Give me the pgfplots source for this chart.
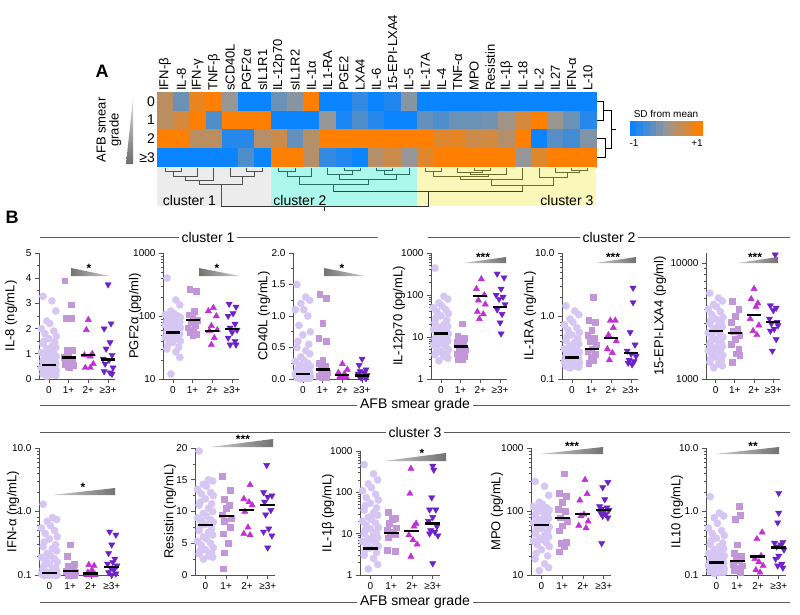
\documentclass[border=0pt]{standalone}
\usepackage{fontspec}
\setmainfont{Liberation Sans}
\usepackage{pgfplots}
\pgfplotsset{compat=1.18}

\definecolor{c0}{RGB}{214,198,243}
\definecolor{c1}{RGB}{194,150,216}
\definecolor{c2}{RGB}{192,48,212}
\definecolor{c3}{RGB}{108,34,200}
\definecolor{axc}{RGB}{80,80,80}
\definecolor{bgA}{RGB}{236,236,236}
\definecolor{bgB}{RGB}{172,248,236}
\definecolor{bgC}{RGB}{250,247,186}
\definecolor{d1}{RGB}{80,80,80}
\definecolor{d2}{RGB}{40,110,96}
\definecolor{d3}{RGB}{110,110,40}

\newcommand\tf{\fontsize{10}{12}\selectfont}
\newcommand\lf{\fontsize{13}{13}\selectfont}
\newcommand\cf{\fontsize{14}{16}\selectfont}
\newcommand\hf{\fontsize{13}{14}\selectfont}

\pgfplotsset{
  sc/.style={anchor=south west, scale only axis, clip=false, clip marker paths=true,
    axis lines=left, axis line style={-, draw=axc, line width=0.9pt},
    xmin=-0.5, xmax=3.35, xtick={0,1,2,3}, xticklabels={0,1+,2+,≥3+},
    tick align=outside, major tick length=4pt, minor tick length=2.2pt,
    tick style={axc, line width=0.7pt},
    tick label style={font=\tf},
    ylabel style={font=\lf, at={(axis description cs:0,0.5)}, anchor=center},
    width=76pt, height=126pt},
  sc2/.style={sc, width=80pt, height=127pt},
  yoff/.style={ylabel style={yshift=#1pt}},
  g0/.style={only marks, mark=*, mark size=3.6pt, color=c0},
  g1/.style={only marks, mark=square*, mark size=2.9pt, color=c1},
  g2/.style={only marks, mark=triangle*, mark size=3.6pt, color=c2},
  g3/.style={only marks, mark=triangle*, mark options={rotate=180}, mark size=3.6pt, color=c3},
  med/.style={black, line width=2.4pt, no marks},
  dd/.style={line width=0.9pt, no marks},
}

\begin{document}
\begin{tikzpicture}

% ---------------- A: heatmap ----------------
\begin{axis}[at={(157pt,-167pt)}, anchor=south west, scale only axis,
  width=439pt, height=75pt, clip=false,
  xmin=0.5, xmax=27.5, ymin=-0.5, ymax=3.5, y dir=reverse,
  axis line style={draw=none}, major tick length=0pt,
  xtick={1,...,27},
  xticklabels={IFN-β,IL-8,IFN-γ,TNF-β,sCD40L,PGF2α,sIL1R1,IL-12p70,sIL1R2,IL-1α,IL1-RA,PGE2,LXA4,IL-6,15-EPI-LXA4,IL-5,IL-17A,IL-4,TNF-α,MPO,Resistin,IL-1β,IL-18,IL-2,IL27,IFN-α,L-10},
  xticklabel pos=upper,
  xticklabel style={rotate=90, anchor=west, font=\hf, inner sep=1pt},
  ytick={0,1,2,3}, yticklabels={0,1,2,≥3},
  yticklabel style={font=\cf, inner sep=2pt},
  colormap={bgo}{rgb255=(10,132,255) rgb255=(150,150,150) rgb255=(255,128,0)},
  point meta min=-1, point meta max=1]
\addplot[matrix plot*, mesh/cols=27, point meta=explicit] coordinates {
(1,0)[0.35] (2,0)[-0.3] (3,0)[0.8] (4,0)[1] (5,0)[0] (6,0)[-1] (7,0)[-1] (8,0)[-0.3] (9,0)[-0.1] (10,0)[1] (11,0)[-1] (12,0)[-1] (13,0)[-0.7] (14,0)[-1] (15,0)[-0.85] (16,0)[-0.1] (17,0)[-1] (18,0)[-1] (19,0)[-1] (20,0)[-1] (21,0)[-1] (22,0)[-1] (23,0)[-1] (24,0)[-1] (25,0)[-1] (26,0)[-1] (27,0)[-1]

(1,1)[0.35] (2,1)[0.6] (3,1)[1] (4,1)[-0.5] (5,1)[1] (6,1)[1] (7,1)[1] (8,1)[-1] (9,1)[-1] (10,1)[-1] (11,1)[0] (12,1)[-0.9] (13,1)[-0.5] (14,1)[-0.8] (15,1)[-1] (16,1)[-1] (17,1)[-0.35] (18,1)[-0.5] (19,1)[-0.3] (20,1)[-0.3] (21,1)[-0.25] (22,1)[0.1] (23,1)[0.6] (24,1)[1] (25,1)[0.05] (26,1)[-0.3] (27,1)[-0.8]

(1,2)[1] (2,2)[1] (3,2)[0.35] (4,2)[0.35] (5,2)[-0.8] (6,2)[-0.8] (7,2)[0.3] (8,2)[0.5] (9,2)[-0.35] (10,2)[0.3] (11,2)[1] (12,2)[1] (13,2)[1] (14,2)[1] (15,2)[1] (16,2)[1] (17,2)[1] (18,2)[0.7] (19,2)[0.75] (20,2)[0.5] (21,2)[0.55] (22,2)[0.3] (23,2)[1] (24,2)[-1] (25,2)[-0.45] (26,2)[-0.6] (27,2)[-0.15]

(1,3)[-1] (2,3)[-1] (3,3)[-1] (4,3)[-1] (5,3)[-1] (6,3)[-0.5] (7,3)[-1] (8,3)[1] (9,3)[1] (10,3)[0.3] (11,3)[-0.7] (12,3)[-0.85] (13,3)[-1] (14,3)[0.3] (15,3)[0.5] (16,3)[0] (17,3)[0.7] (18,3)[1] (19,3)[1] (20,3)[1] (21,3)[1] (22,3)[1] (23,3)[0] (24,3)[0.7] (25,3)[1] (26,3)[1] (27,3)[1]
};
% cluster backgrounds
\fill[bgA] (axis cs:0.5,3.5) rectangle (axis cs:7.5,5.58);
\fill[bgB] (axis cs:7.5,3.5) rectangle (axis cs:16.5,5.58);
\fill[bgC] (axis cs:16.5,3.5) rectangle (axis cs:27.5,5.58);
\node[font=\cf, anchor=south west, inner sep=0pt] at (axis cs:0.85,5.55) {cluster 1};
\node[font=\cf, anchor=south west, inner sep=0pt] at (axis cs:7.65,5.55) {cluster 2};
\node[font=\cf, anchor=south east, inner sep=0pt] at (axis cs:27.35,5.55) {cluster 3};
% cluster 1 dendrogram
\addplot[dd, d1] coordinates {(1,3.55) (1,3.72) (2,3.72) (2,3.55)};
\addplot[dd, d1] coordinates {(1.5,3.72) (1.5,4.03) (3,4.03) (3,3.55)};
\addplot[dd, d1] coordinates {(2.25,4.03) (2.25,4.2) (4,4.2) (4,3.55)};
\addplot[dd, d1] coordinates {(6,3.55) (6,3.72) (7,3.72) (7,3.55)};
\addplot[dd, d1] coordinates {(5,3.55) (5,4.03) (6.5,4.03) (6.5,3.72)};
\addplot[dd, d1] coordinates {(3.125,4.2) (3.125,4.41) (5.75,4.41) (5.75,4.03)};
\addplot[dd, d1] coordinates {(4.44,4.41) (4.44,5.63)};
% cluster 2 dendrogram
\addplot[dd, d2] coordinates {(8,3.55) (8,3.72) (9,3.72) (9,3.55)};
\addplot[dd, d2] coordinates {(8.5,3.72) (8.5,4.0) (10,4.0) (10,3.55)};
\addplot[dd, d2] coordinates {(12,3.55) (12,3.68) (13,3.68) (13,3.55)};
\addplot[dd, d2] coordinates {(11,3.55) (11,3.9) (12.5,3.9) (12.5,3.68)};
\addplot[dd, d2] coordinates {(14,3.55) (14,3.68) (15,3.68) (15,3.55)};
\addplot[dd, d2] coordinates {(14.5,3.68) (14.5,3.9) (16,3.9) (16,3.55)};
\addplot[dd, d2] coordinates {(11.75,3.9) (11.75,4.15) (15.25,4.15) (15.25,3.9)};
\addplot[dd, d2] coordinates {(9.25,4.0) (9.25,4.45) (13.5,4.45) (13.5,4.15)};
\addplot[dd, d2] coordinates {(11.375,4.45) (11.375,4.83)};
% cluster 3 dendrogram
\addplot[dd, d3] coordinates {(17,3.55) (17,3.72) (18,3.72) (18,3.55)};
\addplot[dd, d3] coordinates {(20,3.55) (20,3.66) (21,3.66) (21,3.55)};
\addplot[dd, d3] coordinates {(19,3.55) (19,3.8) (20.5,3.8) (20.5,3.66)};
\addplot[dd, d3] coordinates {(19.75,3.8) (19.75,3.92) (22,3.92) (22,3.55)};
\addplot[dd, d3] coordinates {(17.5,3.72) (17.5,4.0) (20.875,4.0) (20.875,3.92)};
\addplot[dd, d3] coordinates {(19.19,4.0) (19.19,4.14) (23,4.14) (23,3.55)};
\addplot[dd, d3] coordinates {(26,3.55) (26,3.66) (27,3.66) (27,3.55)};
\addplot[dd, d3] coordinates {(25,3.55) (25,3.8) (26.5,3.8) (26.5,3.66)};
\addplot[dd, d3] coordinates {(24,3.55) (24,4.05) (25.75,4.05) (25.75,3.8)};
\addplot[dd, d3] coordinates {(21.1,4.14) (21.1,4.46) (24.875,4.46) (24.875,4.05)};
\addplot[dd, d3] coordinates {(22.99,4.46) (22.99,4.83)};
% joins between clusters
\addplot[dd, d2!70!black] coordinates {(11.375,4.83) (22.99,4.83)};
\addplot[dd, black!80] coordinates {(17.18,4.83) (17.18,5.63)};
\addplot[dd, black!80] coordinates {(4.44,5.63) (17.18,5.63)};
\addplot[dd, black!80] coordinates {(10.81,5.63) (10.81,5.85)};
% row dendrogram
\addplot[dd, black] coordinates {(27.55,0) (27.93,0) (27.93,1) (27.55,1)};
\addplot[dd, black] coordinates {(27.55,2) (28.1,2) (28.1,3) (27.55,3)};
\addplot[dd, black] coordinates {(27.93,0.5) (28.45,0.5) (28.45,2.5) (28.1,2.5)};
\addplot[dd, black] coordinates {(28.45,1.5) (28.76,1.5)};
\end{axis}

% colour key
\begin{axis}[at={(630pt,-135pt)}, anchor=south west, scale only axis,
  width=73pt, height=14pt, hide axis,
  xmin=0.5, xmax=11.5, ymin=-0.5, ymax=1.5,
  colormap={bgo}{rgb255=(10,132,255) rgb255=(150,150,150) rgb255=(255,128,0)},
  point meta min=-1, point meta max=1]
\addplot[matrix plot*, mesh/cols=11, point meta=explicit] coordinates {
(1,0)[-1] (2,0)[-0.8] (3,0)[-0.6] (4,0)[-0.4] (5,0)[-0.2] (6,0)[0] (7,0)[0.2] (8,0)[0.4] (9,0)[0.6] (10,0)[0.8] (11,0)[1]

(1,1)[-1] (2,1)[-0.8] (3,1)[-0.6] (4,1)[-0.4] (5,1)[-0.2] (6,1)[0] (7,1)[0.2] (8,1)[0.4] (9,1)[0.6] (10,1)[0.8] (11,1)[1]};
\end{axis}

% ---------------- B: row 1 ----------------
\begin{axis}[sc, at={(39pt,-379pt)}, yoff=28, ymin=0, ymax=5, ytick={0,1,2,3,4,5},
  yticklabels={0,1,2,3,4,5}, minor y tick num=1, ylabel={IL-8 (ng/mL)}]
\addplot[g0] coordinates {(-0.3,3.28) (0.15,3.1) (0.35,2.7) (-0.1,2.3) (0.05,2.2) (-0.38,2.0) (0.25,1.9) (-0.2,1.8) (0.38,1.7) (0,1.6) (-0.25,1.5) (0.3,1.45)
(-0.3,1.4) (0.15,1.3) (0.35,1.25) (-0.1,1.2) (0.05,1.1) (-0.38,1.05) (0.25,1.0) (-0.2,0.95) (0.38,0.9) (0,0.85) (-0.25,0.8) (0.3,0.75)
(-0.3,0.7) (0.15,0.65) (0.35,0.6) (-0.1,0.55) (0.05,0.5) (-0.38,0.45) (0.25,0.4) (-0.2,0.38) (0.38,0.35) (0,0.3) (-0.25,0.28) (0.3,0.25)
(-0.3,0.2) (0.15,0.18) (0.35,0.15) (-0.1,0.1)};
\addplot[g1] coordinates {(0.8,3.9) (1.15,2.95) (0.85,2.4) (1.15,2.4) (0.9,1.15) (1.2,1.15) (1.0,0.9) (0.75,0.85) (1.2,0.8) (0.9,0.75) (1.1,0.7) (0.8,0.6) (1.25,0.55) (0.95,0.5) (1.05,0.45)};
\addplot[g2] coordinates {(2.0,2.35) (1.9,1.95) (2.2,1.0) (1.8,0.95) (2.1,0.9) (2.25,0.6) (1.85,0.45) (2.1,0.45)};
\addplot[g3] coordinates {(3.0,3.75) (3.15,2.2) (2.8,2.0) (3.1,1.45) (2.9,1.2) (3.2,0.95) (2.75,0.8) (3.05,0.75) (2.85,0.6) (3.25,0.45) (2.8,0.3) (3.1,0.25) (3.2,0.2)};
\addplot[med] coordinates {(-0.36,0.55) (0.36,0.55)};
\addplot[med] coordinates {(0.64,0.85) (1.36,0.85)};
\addplot[med] coordinates {(1.64,0.95) (2.36,0.95)};
\addplot[med] coordinates {(2.64,0.77) (3.36,0.77)};
\end{axis}

\begin{axis}[sc, at={(163pt,-379pt)}, yoff=28, ymode=log, ymin=10, ymax=1000, ytick={10,100,1000},
  yticklabels={10,100,1000}, minor ytick={20,30,...,90,200,300,...,900}, ylabel={PGF2α (pg/ml)}]
\addplot[g0] coordinates {(-0.3,400) (0.15,180) (0.35,150) (-0.1,120) (0.05,110) (-0.38,105) (0.25,100) (-0.2,97) (0.38,95) (0,92) (-0.25,90) (0.3,88)
(-0.3,85) (0.15,82) (0.35,80) (-0.1,78) (0.05,75) (-0.38,72) (0.25,70) (-0.2,68) (0.38,65) (0,62) (-0.25,60) (0.3,58)
(-0.3,56) (0.15,54) (0.35,52) (-0.1,50) (0.05,48) (-0.38,46) (0.25,44) (-0.2,42) (0.38,40) (0,38) (-0.25,35) (0.3,32)
(-0.3,30) (0.15,27) (0.35,22) (-0.1,12)};
\addplot[g1] coordinates {(0.85,270) (1.2,250) (1.1,120) (0.8,105) (1.0,95) (1.25,85) (0.9,80) (1.15,70) (0.75,65) (1.05,60) (0.85,55) (1.2,52) (1.0,50)};
\addplot[g2] coordinates {(2.05,135) (1.8,120) (2.2,100) (1.95,70) (2.25,60) (1.85,58) (2.1,45) (1.95,35)};
\addplot[g3] coordinates {(2.85,155) (3.2,140) (3.05,110) (2.8,100) (3.15,75) (2.9,65) (3.25,60) (3.0,55) (2.8,45) (3.15,40) (2.9,35) (3.2,35)};
\addplot[med] coordinates {(-0.36,55) (0.36,55)};
\addplot[med] coordinates {(0.64,86) (1.36,86)};
\addplot[med] coordinates {(1.64,58) (2.36,58)};
\addplot[med] coordinates {(2.64,62) (3.36,62)};
\end{axis}

\begin{axis}[sc, at={(293pt,-379pt)}, yoff=29, ymin=0, ymax=2, ytick={0,0.5,1,1.5,2},
  yticklabels={0.0,0.5,1.0,1.5,2.0}, minor y tick num=1, ylabel={CD40L (ng/mL)}]
\addplot[g0] coordinates {(-0.3,1.5) (0.15,1.3) (0.35,1.25) (-0.1,1.2) (0.05,1.1) (-0.38,1.1) (0.25,1.0) (-0.2,0.85) (0.38,0.75) (0,0.7) (-0.25,0.6) (0.3,0.55)
(-0.3,0.5) (0.15,0.45) (0.35,0.4) (-0.1,0.35) (0.05,0.3) (-0.38,0.28) (0.25,0.25) (-0.2,0.22) (0.38,0.2) (0,0.18) (-0.25,0.16) (0.3,0.15)
(-0.3,0.13) (0.15,0.12) (0.35,0.1) (-0.1,0.09) (0.05,0.08) (-0.38,0.07) (0.25,0.06) (-0.2,0.05) (0.38,0.04) (0,0.03) (-0.25,0.03) (0.3,0.02)
(-0.3,0.02) (0.15,0.01) (0.35,0.01) (-0.1,0.0)};
\addplot[g1] coordinates {(0.85,1.35) (1.2,1.28) (1.0,0.88) (0.8,0.65) (1.2,0.6) (1.0,0.3) (0.8,0.25) (1.15,0.2) (0.9,0.15) (1.25,0.1) (1.05,0.08) (0.8,0.05) (1.2,0.03) (0.95,0.02)};
\addplot[g2] coordinates {(2.0,0.24) (2.25,0.15) (1.8,0.1) (2.1,0.08) (1.9,0.05) (2.2,0.03) (1.85,0.02) (2.05,0.02)};
\addplot[g3] coordinates {(3.0,0.32) (2.85,0.22) (3.2,0.15) (2.9,0.12) (3.1,0.1) (2.8,0.08) (3.25,0.06) (3.0,0.05) (2.85,0.04) (3.15,0.03) (2.95,0.02) (3.2,0.01)};
\addplot[med] coordinates {(-0.36,0.08) (0.36,0.08)};
\addplot[med] coordinates {(0.64,0.15) (1.36,0.15)};
\addplot[med] coordinates {(1.64,0.065) (2.36,0.065)};
\addplot[med] coordinates {(2.64,0.055) (3.36,0.055)};
\end{axis}

\begin{axis}[sc, at={(431pt,-379pt)}, yoff=32, ymode=log, ymin=1, ymax=1000, ytick={1,10,100,1000},
  yticklabels={1,10,100,1000}, minor ytick={2,3,...,9,20,30,...,90,200,300,...,900}, ylabel={IL-12p70 (pg/mL)}]
\addplot[g0] coordinates {(-0.3,440) (0.15,93) (0.35,80) (-0.1,65) (0.05,55) (-0.38,50) (0.25,45) (-0.2,40) (0.38,36) (0,32) (-0.25,28) (0.3,25)
(-0.3,22) (0.15,20) (0.35,18) (-0.1,17) (0.05,16) (-0.38,15) (0.25,14) (-0.2,13) (0.38,12) (0,11) (-0.25,10) (0.3,9.5)
(-0.3,9) (0.15,8.5) (0.35,8) (-0.1,7.5) (0.05,7) (-0.38,6.5) (0.25,6) (-0.2,5.5) (0.38,5) (0,4.5) (-0.25,4.2) (0.3,4)
(-0.3,3.8) (0.15,3.5) (0.35,3.1) (-0.1,2.7)};
\addplot[g1] coordinates {(1.1,20.8) (0.85,10.4) (1.2,9.5) (1.0,8.5) (0.8,7.5) (1.15,6.5) (0.9,5.5) (1.25,5) (1.0,4.5) (0.8,4) (1.2,3.5) (0.9,3.3) (1.1,3.0) (0.85,3.0)};
\addplot[g2] coordinates {(2.05,240) (1.8,140) (2.2,100) (1.9,75) (2.25,60) (1.85,40) (2.15,35) (1.95,27)};
\addplot[g3] coordinates {(2.85,320) (3.2,260) (3.05,140) (2.8,100) (3.15,90) (2.95,80) (3.25,60) (2.85,45) (3.1,35) (3.0,22) (3.05,12)};
\addplot[med] coordinates {(-0.36,12) (0.36,12)};
\addplot[med] coordinates {(0.64,5.9) (1.36,5.9)};
\addplot[med] coordinates {(1.64,96) (2.36,96)};
\addplot[med] coordinates {(2.64,52) (3.36,52)};
\end{axis}

\begin{axis}[sc, at={(562pt,-379pt)}, yoff=32, ymode=log, ymin=0.1, ymax=10, ytick={0.1,1,10},
  yticklabels={0.1,1.0,10.0}, minor ytick={0.2,0.3,...,0.9,2,3,...,9}, ylabel={IL-1RA (ng/mL)}]
\addplot[g0] coordinates {(-0.3,1.45) (0.15,1.2) (0.35,1.05) (-0.1,0.9) (0.05,0.8) (-0.38,0.72) (0.25,0.65) (-0.2,0.6) (0.38,0.55) (0,0.5) (-0.25,0.47) (0.3,0.44)
(-0.3,0.41) (0.15,0.38) (0.35,0.36) (-0.1,0.34) (0.05,0.32) (-0.38,0.3) (0.25,0.29) (-0.2,0.28) (0.38,0.27) (0,0.26) (-0.25,0.25) (0.3,0.24)
(-0.3,0.23) (0.15,0.22) (0.35,0.21) (-0.1,0.2) (0.05,0.2) (-0.38,0.19) (0.25,0.19) (-0.2,0.18) (0.38,0.18) (0,0.17) (-0.25,0.17) (0.3,0.165)
(-0.3,0.16) (0.15,0.16) (0.35,0.155) (-0.1,0.15)};
\addplot[g1] coordinates {(1.1,2.0) (0.85,0.85) (1.2,0.8) (1.0,0.6) (0.8,0.5) (1.15,0.45) (0.9,0.4) (1.25,0.35) (1.0,0.3) (0.8,0.28) (1.2,0.25) (0.95,0.22) (1.1,0.2) (0.85,0.18)};
\addplot[g2] coordinates {(1.95,0.85) (2.2,0.85) (2.1,0.65) (1.85,0.5) (2.25,0.4) (1.8,0.3) (2.05,0.26) (1.9,0.2)};
\addplot[g3] coordinates {(3.1,2.8) (3.1,1.65) (2.95,0.55) (3.2,0.35) (2.8,0.28) (3.0,0.25) (3.25,0.23) (2.9,0.2) (3.15,0.19) (2.85,0.18) (3.05,0.17)};
\addplot[med] coordinates {(-0.36,0.22) (0.36,0.22)};
\addplot[med] coordinates {(0.64,0.3) (1.36,0.3)};
\addplot[med] coordinates {(1.64,0.45) (2.36,0.45)};
\addplot[med] coordinates {(2.64,0.26) (3.36,0.26)};
\end{axis}

\begin{axis}[sc, at={(706pt,-379pt)}, width=74pt, yoff=46, ymode=log, ymin=1000, ymax=12200, ytick={1000,10000},
  yticklabels={1000,10000}, minor ytick={2000,3000,...,9000}, ylabel={15-EPI-LXA4 (pg/ml)}]
\addplot[g0] coordinates {(-0.3,5500) (0.15,5000) (0.35,4700) (-0.1,4400) (0.05,4200) (-0.38,4000) (0.25,3800) (-0.2,3600) (0.38,3400) (0,3300) (-0.25,3200) (0.3,3100)
(-0.3,3000) (0.15,2900) (0.35,2800) (-0.1,2700) (0.05,2600) (-0.38,2500) (0.25,2400) (-0.2,2350) (0.38,2300) (0,2200) (-0.25,2100) (0.3,2050)
(-0.3,2000) (0.15,1950) (0.35,1900) (-0.1,1850) (0.05,1800) (-0.38,1750) (0.25,1700) (-0.2,1650) (0.38,1600) (0,1550) (-0.25,1500) (0.3,1450)
(-0.3,1400) (0.15,1350) (0.35,1300) (-0.1,1250)};
\addplot[g1] coordinates {(0.85,4700) (1.2,4000) (1.0,3500) (0.8,3100) (1.15,2700) (0.9,2600) (1.25,2400) (1.0,2200) (0.8,2000) (1.2,1800) (1.05,1650) (1.25,1600) (0.85,1400)};
\addplot[g2] coordinates {(2.0,6000) (1.85,4900) (2.2,4500) (2.1,4200) (1.8,3300) (2.25,2900) (1.95,2600) (2.15,2400)};
\addplot[g3] coordinates {(3.1,11800) (2.85,4300) (3.15,4100) (3.0,3900) (2.8,3300) (3.2,3100) (2.9,3000) (3.25,2900) (3.05,2700) (2.85,2600) (3.15,2200) (2.95,1750)};
\addplot[med] coordinates {(-0.36,2600) (0.36,2600)};
\addplot[med] coordinates {(0.64,2500) (1.36,2500)};
\addplot[med] coordinates {(1.64,3550) (2.36,3550)};
\addplot[med] coordinates {(2.64,3100) (3.36,3100)};
\end{axis}

% ---------------- B: row 2 ----------------
\begin{axis}[sc2, at={(39pt,-575pt)}, yoff=26, ymode=log, ymin=0.1, ymax=10, ytick={0.1,1,10},
  yticklabels={0.1,1.0,10.0}, minor ytick={0.2,0.3,...,0.9,2,3,...,9}, ylabel={IFN-α (ng/mL)}]
\addplot[g0] coordinates {(-0.3,1.3) (0.15,0.8) (0.35,0.75) (-0.1,0.7) (0.05,0.6) (-0.38,0.55) (0.25,0.5) (-0.2,0.45) (0.38,0.4) (0,0.37) (-0.25,0.33) (0.3,0.3)
(-0.3,0.28) (0.15,0.26) (0.35,0.24) (-0.1,0.22) (0.05,0.2) (-0.38,0.19) (0.25,0.18) (-0.2,0.17) (0.38,0.16) (0,0.15) (-0.25,0.14) (0.3,0.13)
(-0.3,0.125) (0.15,0.12) (0.35,0.115) (-0.1,0.11) (0.05,0.11) (-0.38,0.105) (0.25,0.105) (-0.2,0.1) (0.38,0.1) (0,0.1) (-0.25,0.1) (0.3,0.1)
(-0.3,0.1) (0.15,0.1) (0.35,0.1) (-0.1,0.1)};
\addplot[g1] coordinates {(1.0,0.3) (0.85,0.2) (1.2,0.15) (0.9,0.14) (1.15,0.13) (1.0,0.12) (0.8,0.115) (1.25,0.11) (1.05,0.105) (0.9,0.1) (1.2,0.1)};
\addplot[g2] coordinates {(1.9,0.145) (2.15,0.14) (2.05,0.12) (1.85,0.11) (2.2,0.1) (1.95,0.1) (2.1,0.1) (1.8,0.1)};
\addplot[g3] coordinates {(2.9,0.48) (3.2,0.43) (3.0,0.3) (2.85,0.22) (3.15,0.18) (3.05,0.16) (2.8,0.15) (3.25,0.14) (2.95,0.13) (3.1,0.12) (2.85,0.11) (3.2,0.105) (3.0,0.1)};
\addplot[med] coordinates {(-0.36,0.108) (0.36,0.108)};
\addplot[med] coordinates {(0.64,0.115) (1.36,0.115)};
\addplot[med] coordinates {(1.64,0.105) (2.36,0.105)};
\addplot[med] coordinates {(2.64,0.135) (3.36,0.135)};
\end{axis}

\begin{axis}[sc2, at={(195pt,-575pt)}, yoff=25, ymin=0, ymax=20, ytick={0,5,10,15,20},
  yticklabels={0,5,10,15,20}, minor y tick num=1, ylabel={Resistin (ng/mL)}]
\addplot[g0] coordinates {(-0.3,19.5) (0.15,15) (0.35,14.8) (-0.1,14.3) (0.05,14) (-0.38,13.5) (0.25,13) (-0.2,12.8) (0.38,12.5) (0,12) (-0.25,11.5) (0.3,11.2)
(-0.3,11) (0.15,10.5) (0.35,10) (-0.1,9.7) (0.05,9.3) (-0.38,9) (0.25,8.7) (-0.2,8.5) (0.38,8.3) (0,8) (-0.25,7.7) (0.3,7.3)
(-0.3,7) (0.15,6.7) (0.35,6.3) (-0.1,6) (0.05,5.7) (-0.38,5.3) (0.25,5) (-0.2,4.7) (0.38,4.3) (0,4) (-0.25,3.8) (0.3,3.5)
(-0.3,3.3) (0.15,3) (0.35,2.8) (-0.1,2.5)};
\addplot[g1] coordinates {(0.8,15.5) (1.2,13.3) (0.9,12) (1.15,11) (1.0,10.5) (0.8,9.5) (1.25,9.0) (0.9,8.5) (1.2,7.5) (0.85,6.5) (1.1,5) (0.9,3.5) (0.85,1)};
\addplot[g2] coordinates {(2.15,14.2) (1.85,12) (2.1,11.5) (2.25,11) (1.9,10) (2.05,7.5) (1.85,6.5) (2.15,6.3)};
\addplot[g3] coordinates {(2.95,17.3) (2.8,13) (3.2,12.5) (3.0,12.3) (2.85,11.5) (3.15,10.2) (2.9,9.5) (3.05,7.3) (2.8,6.8) (3.2,6.2) (3.0,4.3)};
\addplot[med] coordinates {(-0.36,7.9) (0.36,7.9)};
\addplot[med] coordinates {(0.64,9.3) (1.36,9.3)};
\addplot[med] coordinates {(1.64,10.2) (2.36,10.2)};
\addplot[med] coordinates {(2.64,11) (3.36,11)};
\end{axis}

\begin{axis}[sc2, at={(360pt,-575pt)}, yoff=32, height=124pt, ymode=log, ymin=1, ymax=1000, ytick={1,10,100,1000},
  yticklabels={1,10,100,1000}, minor ytick={2,3,...,9,20,30,...,90,200,300,...,900}, ylabel={IL-1β (pg/mL)}]
\addplot[g0] coordinates {(-0.3,470) (0.15,280) (0.35,200) (-0.1,160) (0.05,130) (-0.38,110) (0.25,90) (-0.2,75) (0.38,65) (0,55) (-0.25,48) (0.3,42)
(-0.3,37) (0.15,32) (0.35,28) (-0.1,25) (0.05,22) (-0.38,20) (0.25,18) (-0.2,16) (0.38,14) (0,13) (-0.25,12) (0.3,11)
(-0.3,10) (0.15,9) (0.35,8) (-0.1,7.5) (0.05,7) (-0.38,6.5) (0.25,6) (-0.2,5.5) (0.38,5) (0,4.5) (-0.25,4) (0.3,3.5)
(-0.3,3) (0.15,2.5) (0.35,1.8) (-0.1,1.4)};
\addplot[g1] coordinates {(0.85,33) (1.2,24) (1.05,22) (0.9,18) (1.25,14) (0.8,12) (1.1,11) (0.95,10) (1.2,9.5) (0.85,8) (0.8,4) (1.2,3.8)};
\addplot[g2] coordinates {(1.95,375) (1.9,93) (2.2,17.6) (2.1,15) (1.85,9.2) (2.05,7.0) (2.25,5.5) (1.95,2.8)};
\addplot[g3] coordinates {(3.0,437) (3.05,350) (2.95,75) (2.85,38) (3.15,38) (3.0,25) (2.8,20) (3.2,15) (2.9,12) (3.1,11) (2.85,10) (3.25,9) (3.0,1.9)};
\addplot[med] coordinates {(-0.36,4.4) (0.36,4.4)};
\addplot[med] coordinates {(0.64,10.5) (1.36,10.5)};
\addplot[med] coordinates {(1.64,11.7) (2.36,11.7)};
\addplot[med] coordinates {(2.64,17.6) (3.36,17.6)};
\end{axis}

\begin{axis}[sc2, at={(531pt,-575pt)}, yoff=34, ymode=log, ymin=10, ymax=1000, ytick={10,100,1000},
  yticklabels={10,100,1000}, minor ytick={20,30,...,90,200,300,...,900}, ylabel={MPO (pg/mL)}]
\addplot[g0] coordinates {(-0.3,297) (0.15,250) (0.35,180) (-0.1,140) (0.05,130) (-0.38,120) (0.25,115) (-0.2,110) (0.38,105) (0,100) (-0.25,95) (0.3,90)
(-0.3,86) (0.15,82) (0.35,78) (-0.1,74) (0.05,70) (-0.38,66) (0.25,63) (-0.2,60) (0.38,57) (0,54) (-0.25,51) (0.3,48)
(-0.3,45) (0.15,42) (0.35,40) (-0.1,38) (0.05,36) (-0.38,34) (0.25,32) (-0.2,30) (0.38,28) (0,25) (-0.25,22) (0.3,20)
(-0.3,18) (0.15,15) (0.35,13) (-0.1,11.7)};
\addplot[g1] coordinates {(1.1,393) (0.85,194) (1.2,175) (1.0,140) (0.8,110) (1.15,100) (0.9,80) (1.25,70) (1.0,60) (0.85,50) (1.2,33) (0.95,32) (1.1,28) (0.85,23.3)};
\addplot[g2] coordinates {(2.1,316) (2.2,190) (1.85,150) (2.05,90) (1.9,85) (2.25,70) (1.8,60) (2.15,55)};
\addplot[g3] coordinates {(3.2,290) (2.95,240) (3.05,155) (2.8,120) (3.15,115) (2.9,110) (3.25,105) (3.0,100) (2.85,95) (3.1,90) (2.95,85) (3.2,80) (2.9,31.6)};
\addplot[med] coordinates {(-0.36,61.5) (0.36,61.5)};
\addplot[med] coordinates {(0.64,78.6) (1.36,78.6)};
\addplot[med] coordinates {(1.64,90.6) (2.36,90.6)};
\addplot[med] coordinates {(2.64,105) (3.36,105)};
\end{axis}

\begin{axis}[sc2, at={(706pt,-575pt)}, yoff=29, ymode=log, ymin=0.1, ymax=10, ytick={0.1,1,10},
  yticklabels={0.1,1.0,10.0}, minor ytick={0.2,0.3,...,0.9,2,3,...,9}, ylabel={IL10 (ng/mL)}]
\addplot[g0] coordinates {(-0.3,1.72) (0.15,0.95) (0.35,0.85) (-0.1,0.8) (0.05,0.65) (-0.38,0.55) (0.25,0.5) (-0.2,0.45) (0.38,0.42) (0,0.38) (-0.25,0.35) (0.3,0.32)
(-0.3,0.3) (0.15,0.28) (0.35,0.26) (-0.1,0.25) (0.05,0.24) (-0.38,0.22) (0.25,0.21) (-0.2,0.2) (0.38,0.2) (0,0.19) (-0.25,0.18) (0.3,0.17)
(-0.3,0.165) (0.15,0.16) (0.35,0.155) (-0.1,0.15) (0.05,0.145) (-0.38,0.14) (0.25,0.135) (-0.2,0.13) (0.38,0.125) (0,0.12) (-0.25,0.12) (0.3,0.115)
(-0.3,0.115) (0.15,0.11) (0.35,0.11) (-0.1,0.105)};
\addplot[g1] coordinates {(1.1,1.2) (1.15,0.88) (0.9,0.75) (1.0,0.3) (0.85,0.22) (1.2,0.2) (0.95,0.18) (1.1,0.17) (0.8,0.15) (1.25,0.14) (1.0,0.13) (0.85,0.12) (1.15,0.11)};
\addplot[g2] coordinates {(2.2,0.47) (1.95,0.37) (2.15,0.2) (1.85,0.18) (2.05,0.16) (2.25,0.14) (1.9,0.12) (2.1,0.11)};
\addplot[g3] coordinates {(3.0,1.95) (3.0,0.95) (2.95,0.67) (3.2,0.33) (2.8,0.32) (3.1,0.3) (2.9,0.28) (3.25,0.25) (3.0,0.2) (2.85,0.18) (3.15,0.15) (2.95,0.14) (3.2,0.13)};
\addplot[med] coordinates {(-0.36,0.158) (0.36,0.158)};
\addplot[med] coordinates {(0.64,0.168) (1.36,0.168)};
\addplot[med] coordinates {(1.64,0.195) (2.36,0.195)};
\addplot[med] coordinates {(2.64,0.27) (3.36,0.27)};
\end{axis}

% ---------------- annotations (pixel units) ----------------
\begin{scope}[x=1pt, y=-1pt]
\node[font=\fontsize{18}{18}\selectfont\bfseries] at (102,71) {A};
\node[font=\fontsize{18}{18}\selectfont\bfseries] at (12,217) {B};
\node[rotate=90, align=center, font=\lf] at (109,130) {AFB smear\\grade};
\shade[top color=gray!25, bottom color=gray!85!black] (133,98) -- (126,164) -- (133,164) -- cycle;
\node[font=\fontsize{10}{12}\selectfont] at (666,114) {SD from mean};
\node[font=\fontsize{10}{12}\selectfont] at (634,143) {-1};
\node[font=\fontsize{10}{12}\selectfont] at (697,143) {+1};
% section rules
\draw[gray!70!black, line width=0.8pt] (40,237) -- (378,237);
\draw[gray!70!black, line width=0.8pt] (428,237) -- (790,237);
\draw[gray!70!black, line width=0.8pt] (40,405) -- (790,405);
\draw[gray!70!black, line width=0.8pt] (40,432) -- (790,432);
\draw[gray!70!black, line width=0.8pt] (40,602) -- (790,602);
\node[fill=white, font=\cf, inner xsep=3pt, inner ysep=1pt] at (208,237) {cluster 1};
\node[fill=white, font=\cf, inner xsep=3pt, inner ysep=1pt] at (609,237) {cluster 2};
\node[fill=white, font=\cf, inner xsep=3pt, inner ysep=1pt] at (415,405) {AFB smear grade};
\node[fill=white, font=\cf, inner xsep=3pt, inner ysep=1pt] at (415,432) {cluster 3};
\node[fill=white, font=\cf, inner xsep=3pt, inner ysep=1pt] at (415,602) {AFB smear grade};
% trend wedges
\shade[left color=gray!90!black, right color=gray!40] (71,268) -- (71,276) -- (110,276) -- cycle;
\shade[left color=gray!90!black, right color=gray!40] (199,268) -- (199,276) -- (240,276) -- cycle;
\shade[left color=gray!90!black, right color=gray!40] (324,268) -- (324,276) -- (365,276) -- cycle;
\shade[left color=gray!40, right color=gray!90!black] (463,263) -- (506,257) -- (506,263) -- cycle;
\shade[left color=gray!40, right color=gray!90!black] (595,263) -- (636,257) -- (636,263) -- cycle;
\shade[left color=gray!40, right color=gray!90!black] (737,263) -- (778,257) -- (778,263) -- cycle;
\shade[left color=gray!40, right color=gray!90!black] (52,495) -- (115,488) -- (115,495) -- cycle;
\shade[left color=gray!40, right color=gray!90!black] (210,447) -- (273,439) -- (273,447) -- cycle;
\shade[left color=gray!40, right color=gray!90!black] (383,461) -- (446,453) -- (446,461) -- cycle;
\shade[left color=gray!40, right color=gray!90!black] (540,454) -- (603,447) -- (603,454) -- cycle;
\shade[left color=gray!40, right color=gray!90!black] (715,454) -- (779,447) -- (779,454) -- cycle;
\tikzset{star/.style={font=\fontsize{12}{12}\selectfont\bfseries, anchor=base, inner sep=0pt}}
\node[star] at (89,272) {*};
\node[star] at (217,272) {*};
\node[star] at (342,272) {*};
\node[star] at (483,261) {***};
\node[star] at (613,261) {***};
\node[star] at (755,261) {***};
\node[star] at (83,491) {*};
\node[star] at (243,443) {***};
\node[star] at (422,457) {*};
\node[star] at (572,450) {***};
\node[star] at (753,450) {**};
\end{scope}

\pgfresetboundingbox
\path (0pt,0pt) rectangle (800pt,-614pt);
\end{tikzpicture}
\end{document}
